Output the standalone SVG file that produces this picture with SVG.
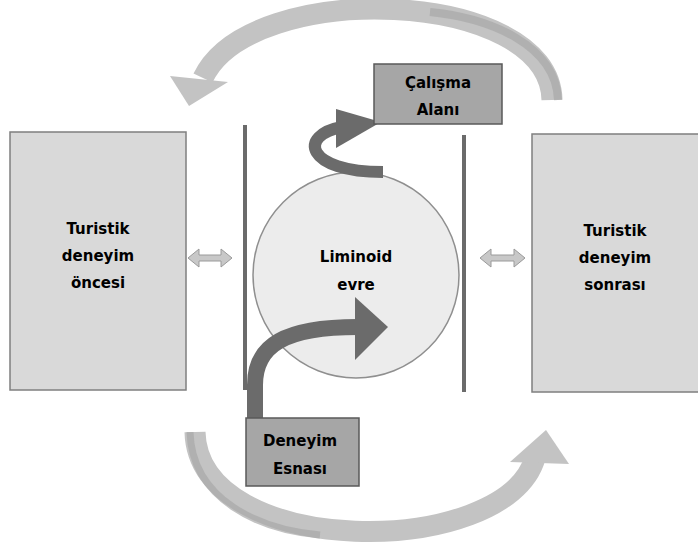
<svg xmlns="http://www.w3.org/2000/svg" width="698" height="548" viewBox="0 0 698 548">
<defs>
<style>
.box{fill:#d9d9d9;stroke:#7f7f7f;stroke-width:1.5}
.lbl{fill:#a6a6a6;stroke:#595959;stroke-width:1.5}
.t{font-family:"DejaVu Sans",sans-serif;font-weight:bold;font-size:15px;fill:#000;text-anchor:middle}
.big{fill:none;stroke:#c3c3c3;stroke-width:21}
.dk{fill:none;stroke:#6b6b6b}
.vl{stroke:#6b6b6b;stroke-width:4}
.dbl{fill:#c8c8c8;stroke:#9a9a9a;stroke-width:1}
</style>
</defs>
<rect width="698" height="548" fill="#fff"/>
<g id="connectors">
<path class="big" d="M552 100 C550 -12 250 -22 203 78"/>
<path d="M558 100 C556 45 490 18 430 12" fill="none" stroke="#a8a8a8" stroke-width="8" opacity="0.7"/>
<polygon points="170,76 228,82 189,106" fill="#c3c3c3"/>
<path class="big" d="M195 432 C198 560 505 560 535 458"/>
<path d="M190 432 C192 500 260 530 320 535" fill="none" stroke="#a8a8a8" stroke-width="7" opacity="0.7"/>
<polygon points="510,462 546,430 569,464" fill="#c3c3c3"/>
<polygon class="dbl" points="188,258 199,249 199,255 221,255 221,249 232,258 221,267 221,261 199,261 199,267"/>
<polygon class="dbl" points="480,258 491,249 491,255 514,255 514,249 525,258 514,267 514,261 491,261 491,267"/>
</g>
<g id="leftbox"><rect class="box" x="10" y="132" width="176" height="258"/>
<text class="t" x="98" y="234">Turistik</text><text class="t" x="98" y="261">deneyim</text><text class="t" x="98" y="288">öncesi</text></g>
<g id="rightbox"><rect class="box" x="532" y="134" width="170" height="258"/>
<text class="t" x="615" y="236">Turistik</text><text class="t" x="615" y="263">deneyim</text><text class="t" x="615" y="290">sonrası</text></g>
<g id="bars"><line class="vl" x1="245" y1="125" x2="245" y2="390"/><line class="vl" x1="464" y1="135" x2="464" y2="392"/></g>
<g id="liminoid"><circle cx="356" cy="275" r="103" fill="#ececec" stroke="#8f8f8f" stroke-width="1.5"/>
<text class="t" x="356" y="262">Liminoid</text><text class="t" x="356" y="290">evre</text></g>
<g id="arrows">
<path class="dk" stroke-width="12" d="M383 172 C305 172 298 135 342 127"/>
<polygon points="336,109 381,122 336,148" fill="#6b6b6b"/>
<path class="dk" stroke-width="16" d="M255 420 L255 385 C255 345 285 327 358 327"/>
<polygon points="355,297 388,327 355,360" fill="#6b6b6b"/>
</g>
<g id="calisma"><rect class="lbl" x="374" y="64" width="128" height="60"/>
<text class="t" x="438" y="88">Çalışma</text><text class="t" x="438" y="115">Alanı</text></g>
<g id="deneyim"><rect class="lbl" x="246" y="418" width="113" height="68"/>
<text class="t" x="300" y="446">Deneyim</text><text class="t" x="300" y="474">Esnası</text></g>
</svg>
